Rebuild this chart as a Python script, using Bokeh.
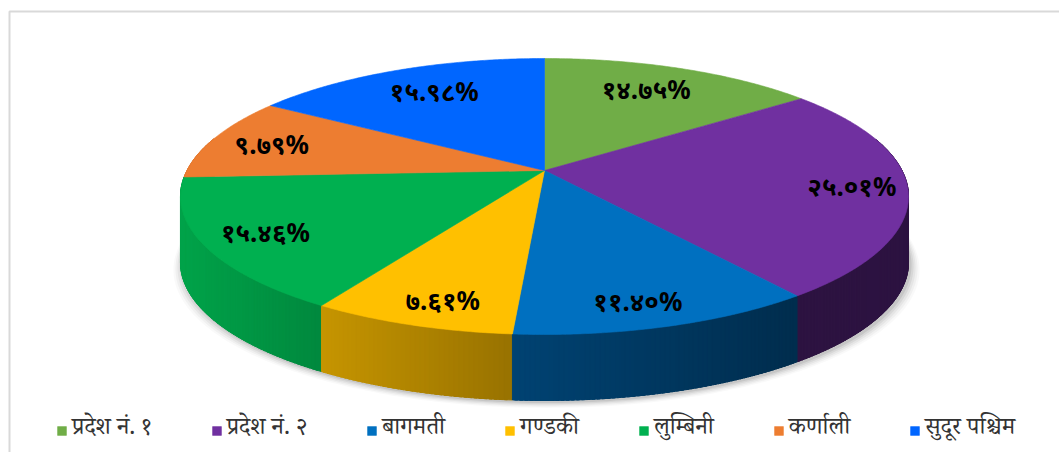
import numpy as np
from bokeh.plotting import figure
from bokeh.models import Range1d, Legend, LegendItem, ColumnDataSource
from bokeh.core.properties import value
from bokeh.embed import file_html
from bokeh.resources import INLINE

# ---- data ----
provinces = ["प्रदेश नं. १", "प्रदेश नं. २", "बागमती", "गण्डकी", "लुम्बिनी", "कर्णाली", "सुदूर पश्चिम"]
shares = [14.75, 25.01, 11.40, 7.61, 15.46, 9.79, 15.98]
share_labels = ["१४.७५%", "२५.०१%", "११.४०%", "७.६१%", "१५.४६%", "९.७९%", "१५.९८%"]
colors = ["#70ad47", "#7030a0", "#0070c0", "#ffc000", "#00b050", "#ed7d31", "#0066ff"]

# ---- geometry of the 3D pie (screen pixels) ----
W, H = 1059, 452
CX, CY = 544.0, 170.0       # projected centre of the top face
A, B, K = 357.5, 133.1, 0.1884
DEPTH = 66.0


def proj(r, t):
    c, s = np.cos(t), np.sin(t)
    d = 1 + K * r * s
    return CX + A * r * c / d, CY - B * r * s / d


def hex_rgb(h):
    h = h.lstrip("#")
    return tuple(int(h[i:i + 2], 16) for i in (0, 2, 4))


def shade(h, f):
    r, g, b = hex_rgb(h)
    return "#%02x%02x%02x" % (int(r * f), int(g * f), int(b * f))


p = figure(width=W, height=H, x_range=Range1d(0, W), y_range=Range1d(H, 0),
           output_backend="svg", toolbar_location=None, min_border=0,
           x_axis_type=None, y_axis_type=None)
p.grid.visible = False
p.outline_line_color = None
p.background_fill_color = "white"

# chart-area frame
p.line([9, 9, 1070], [470, 11, 11], line_color="#d9d9d9", line_width=2)

total = sum(shares)
cum = np.concatenate([[0], np.cumsum(shares)]) / total
t_edges = np.pi / 2 - 2 * np.pi * cum

# ---- shadow ----
tt = np.linspace(0, 2 * np.pi, 361)
for grow, alpha in [(9, 0.025), (7, 0.035), (5, 0.045), (3, 0.06), (1, 0.08)]:
    sx, sy = proj(1.0, tt)
    sx = CX + (sx - CX) * (1 + grow / 360.0) + 2
    sy = sy + DEPTH + grow * 0.6 + 2
    p.patch(sx, sy, fill_color="#000000", fill_alpha=alpha, line_color=None)

# ---- side walls ----
segs = []
for i in range(len(shares)):
    t0, t1 = t_edges[i], t_edges[i + 1]
    n = max(2, int(abs(t0 - t1) * 180 / np.pi * 1.5))
    ts = np.linspace(t0, t1, n + 1)
    step = ts[1] - ts[0]
    for j, (a, b) in enumerate(zip(ts[:-1], ts[1:])):
        tm = 0.5 * (a + b)
        if np.sin(tm) > 0.25:
            continue
        bb = b + step * 0.6 if j < n - 1 else b
        xa, ya = proj(1.0, a)
        xb, yb = proj(1.0, bb)
        xm = 0.5 * (xa + xb)
        f = float(np.interp(xm, [180, 330, 512, 790, 910], [0.93, 0.77, 0.6, 0.41, 0.41]))
        segs.append((np.sin(tm), [xa, xb, xb, xa], [ya, yb, yb + DEPTH, ya + DEPTH], shade(colors[i], f)))
segs.sort(key=lambda s: -s[0])
p.patches([s[1] for s in segs], [s[2] for s in segs], fill_color=[s[3] for s in segs],
          line_color=[s[3] for s in segs], line_width=1.0)

# ---- top face ----
xs, ys = [], []
for i in range(len(shares)):
    t0, t1 = t_edges[i], t_edges[i + 1]
    n = max(4, int(abs(t0 - t1) * 180 / np.pi * 2))
    ts = np.linspace(t0, t1, n + 1)
    rx, ry = proj(1.0, ts)
    xs.append(np.concatenate([[CX], rx]).tolist())
    ys.append(np.concatenate([[CY], ry]).tolist())
src = ColumnDataSource(dict(xs=xs, ys=ys, color=colors, name=provinces))
top = p.patches("xs", "ys", source=src, fill_color="color", line_color="color", line_width=0.6)

# ---- data labels (placed on the top face along each slice's mid-angle) ----
tmid = 0.5 * (t_edges[:-1] + t_edges[1:])
sm = np.sin(tmid)
r_x = 0.85 - 0.06 * sm ** 2 - 0.1 * np.clip(sm, 0, None)
r_y = 0.815 - 0.05 * sm
lx, _ = proj(r_x, tmid)
_, ly = proj(r_y, tmid)
p.text(x=lx.tolist(), y=ly.tolist(), text=share_labels, text_align="center", text_baseline="middle",
       text_font_size="26px", text_font_style="bold", text_color="#000000",
       text_font=value("Noto Sans"))

# ---- legend ----
items = [LegendItem(label=provinces[i], renderers=[top], index=i) for i in range(len(provinces))]
legend = Legend(items=items, orientation="horizontal", location=(56, 3),
                glyph_width=11, glyph_height=11, label_standoff=5, spacing=59,
                padding=0, margin=0, border_line_color=None, background_fill_alpha=0,
                label_text_font_size="24px", label_text_color="#333333",
                label_text_font="Noto Serif Devanagari, serif", label_height=24)
p.add_layout(legend)

open("out.html", "w").write(file_html(p, INLINE))
